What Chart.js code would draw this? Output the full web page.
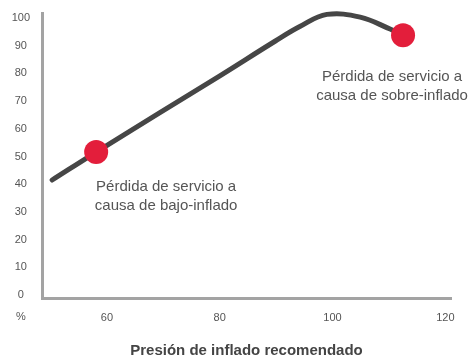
<!DOCTYPE html>
<html>
<head>
<meta charset="utf-8">
<script src="https://cdn.jsdelivr.net/npm/chart.js@4/dist/chart.umd.min.js"></script>
<style>
  html, body { margin: 0; padding: 0; background: #fff; }
  #wrap { width: 469px; height: 361px; }
</style>
</head>
<body>
<div id="wrap"><canvas id="chart"></canvas></div>
<script>
// wear curve vs. inflation pressure (% of recommended)
const pressure = [50.3, 58.1, 69.4, 80.1, 89.8, 94.2, 99.0, 104.9, 110.2, 112.5];
const service = [41.5, 51.6, 65.8, 79.2, 91.6, 96.9, 101.3, 100.3, 96.0, 93.8];

// the two marked points
const markPressure = [58.1, 112.5];
const markService = [51.6, 93.8];
const markText = [
  ["Pérdida de servicio a", "causa de bajo-inflado"],
  ["Pérdida de servicio a", "causa de sobre-inflado"]
];

const xTicks = [60, 80, 100, 120];
const yTicks = [0, 10, 20, 30, 40, 50, 60, 70, 80, 90, 100];
const xTitle = "Presión de inflado recomendado";

const FONT = "'Liberation Sans', Arial, Helvetica, sans-serif";
const textOffsets = [[70, 35], [-11, 42]];

const notesPlugin = {
  id: "notes",
  afterDatasetsDraw(chart) {
    const ctx = chart.ctx;
    const x = chart.scales.x, y = chart.scales.y;
    ctx.save();
    ctx.font = "15px " + FONT;
    ctx.fillStyle = "#555";
    ctx.textAlign = "center";
    ctx.textBaseline = "middle";
    markText.forEach((lines, i) => {
      const px = x.getPixelForValue(markPressure[i]) + textOffsets[i][0];
      const py = y.getPixelForValue(markService[i]) + textOffsets[i][1];
      lines.forEach((t, j) => ctx.fillText(t, px, py + j * 19));
    });
    // unit marker under the y labels
    ctx.font = "11px " + FONT;
    ctx.fillText("%", 21, 317);
    ctx.restore();
  }
};

new Chart(document.getElementById("chart"), {
  type: "line",
  data: {
    datasets: [
      {
        data: pressure.map((p, i) => ({ x: p, y: service[i] })),
        borderColor: "#464646",
        borderWidth: 5,
        borderCapStyle: "round",
        tension: 0.4,
        pointRadius: 0,
        clip: 10,
        order: 2
      },
      {
        type: "scatter",
        data: markPressure.map((p, i) => ({ x: p, y: markService[i] })),
        backgroundColor: "#e31e3b",
        borderWidth: 0,
        pointRadius: 12,
        clip: 14,
        order: 1
      }
    ]
  },
  options: {
    responsive: true,
    maintainAspectRatio: false,
    animation: false,
    layout: { padding: { top: 13, right: 18, left: 0, bottom: 0 } },
    plugins: { legend: { display: false }, tooltip: { enabled: false } },
    scales: {
      x: {
        type: "linear",
        min: 48.5,
        max: 121,
        afterBuildTicks: (s) => { s.ticks = xTicks.map(v => ({ value: v })); },
        afterFit: (s) => { s.height = 63; s.paddingLeft = 0; s.paddingRight = 0; },
        grid: { display: false, drawTicks: false },
        border: { color: "#a3a3a3", width: 3 },
        ticks: { color: "#555", padding: 13, font: { family: FONT, size: 11 } },
        title: {
          display: true,
          text: xTitle,
          color: "#444",
          padding: { top: 0, bottom: 1 },
          font: { family: FONT, size: 15, weight: "bold" }
        }
      },
      y: {
        min: -1.1,
        max: 101.8,
        afterBuildTicks: (s) => { s.ticks = yTicks.map(v => ({ value: v })); },
        afterFit: (s) => { s.width = 42; s.paddingTop = 0; s.paddingBottom = 0; },
        grid: { display: false, drawTicks: false },
        border: { color: "#a3a3a3", width: 3 },
        ticks: { color: "#555", padding: 12, crossAlign: "center", font: { family: FONT, size: 11 } }
      }
    }
  },
  plugins: [notesPlugin]
});
</script>
</body>
</html>
